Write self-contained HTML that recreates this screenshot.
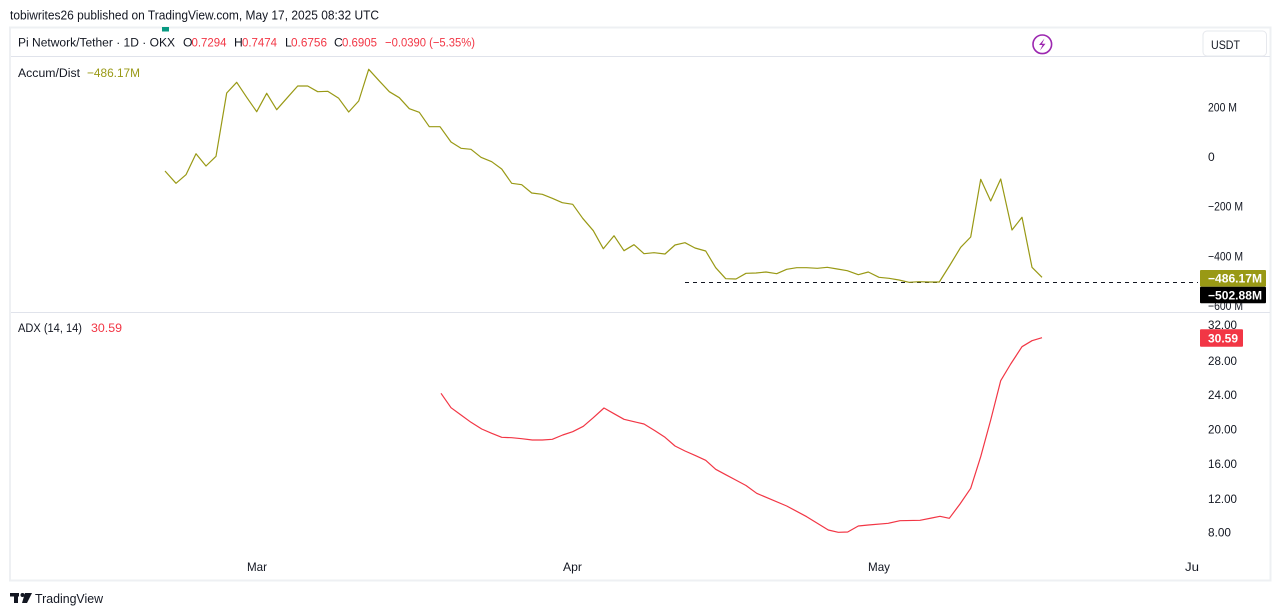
<!DOCTYPE html>
<html><head><meta charset="utf-8"><style>
html,body{margin:0;padding:0;background:#fff;}
svg{display:block;font-family:"Liberation Sans",Arial,sans-serif;}
</style></head><body>
<svg width="1281" height="616" viewBox="0 0 1281 616" xmlns="http://www.w3.org/2000/svg">
<rect width="1281" height="616" fill="#fff"/>
<!-- header -->
<text x="10" y="19.5" font-size="12.5" fill="#131722" textLength="369" lengthAdjust="spacingAndGlyphs">tobiwrites26 published on TradingView.com, May 17, 2025 08:32 UTC</text>
<!-- frame -->
<rect x="10" y="27.5" width="1260.5" height="553" fill="#fff" stroke="#eef0f3" stroke-width="2"/>
<rect x="162" y="27" width="7" height="4.5" fill="#089981"/>
<line x1="11" y1="56.5" x2="1270" y2="56.5" stroke="#e0e3eb" stroke-width="1"/>
<line x1="11" y1="312.5" x2="1270" y2="312.5" stroke="#e0e3eb" stroke-width="1"/>
<!-- legend row -->
<text y="46.5" font-size="12.2" fill="#131722">
<tspan x="18" textLength="157" lengthAdjust="spacingAndGlyphs">Pi Network/Tether · 1D · OKX</tspan>
</text>
<text y="46.5" font-size="12.2">
<tspan x="183" fill="#131722">O</tspan><tspan x="191.5" fill="#f23645" textLength="35" lengthAdjust="spacingAndGlyphs">0.7294</tspan>
<tspan x="234" fill="#131722">H</tspan><tspan x="242" fill="#f23645" textLength="35" lengthAdjust="spacingAndGlyphs">0.7474</tspan>
<tspan x="285" fill="#131722">L</tspan><tspan x="291" fill="#f23645" textLength="36" lengthAdjust="spacingAndGlyphs">0.6756</tspan>
<tspan x="334" fill="#131722">C</tspan><tspan x="342" fill="#f23645" textLength="35" lengthAdjust="spacingAndGlyphs">0.6905</tspan>
<tspan x="385" fill="#f23645" textLength="90" lengthAdjust="spacingAndGlyphs">−0.0390 (−5.35%)</tspan>
</text>
<!-- lightning icon -->
<circle cx="1042.3" cy="44.3" r="9.3" fill="none" stroke="#9c27b0" stroke-width="1.6"/>
<path d="M1044.5 38.5 L1039 45 L1042.5 45 L1040 50.5 L1045.5 43.8 L1042 43.8 Z" fill="#9c27b0"/>
<!-- USDT box -->
<rect x="1203" y="31" width="63.5" height="25" rx="4" fill="#fff" stroke="#e6e8ed" stroke-width="1"/>
<text x="1211" y="49" font-size="12" fill="#131722" textLength="29" lengthAdjust="spacingAndGlyphs">USDT</text>

<!-- Accum/Dist pane -->
<text y="77" font-size="12.2">
<tspan x="18" fill="#131722" textLength="62" lengthAdjust="spacingAndGlyphs">Accum/Dist</tspan>
<tspan x="87" fill="#999915" textLength="53" lengthAdjust="spacingAndGlyphs">−486.17M</tspan>
</text>
<g font-size="12" fill="#131722">
<text x="1208" y="111.5" textLength="29" lengthAdjust="spacingAndGlyphs">200 M</text>
<text x="1208" y="161">0</text>
<text x="1208" y="210.5" textLength="35" lengthAdjust="spacingAndGlyphs">−200 M</text>
<text x="1208" y="260.5" textLength="35" lengthAdjust="spacingAndGlyphs">−400 M</text>
</g>
<clipPath id="cp1"><rect x="1190" y="290" width="80" height="22"/></clipPath>
<text x="1208" y="310" font-size="12" fill="#131722" clip-path="url(#cp1)" textLength="35" lengthAdjust="spacingAndGlyphs">−600 M</text>

<line x1="685" y1="282.5" x2="1198" y2="282.5" stroke="#131722" stroke-width="1" stroke-dasharray="4,4"/>

<polyline fill="none" stroke="#999915" stroke-width="1.2" stroke-linejoin="round" points="165,171 176,183.3 186,174.7 196,153.7 206,166 216,156.3 226.7,93 236.7,82.3 246.7,97.3 256.7,111.7 266.7,93.3 276.7,109.7 287.3,97.7 297.7,86 307.7,86 317.7,91.7 327.7,91.3 338.7,98.3 348.7,112 358.7,101 368.7,69.3 378.7,80.3 389.3,91.7 399.3,97.7 409.3,108.7 419.3,112.3 429.3,126.7 440,126.7 451,142 461,148.3 471,149.3 481,157.3 491.7,161.7 501.7,169 511.7,183.3 521.7,184.7 531.7,193 542.3,194.3 552.3,198.3 562.3,202.7 572.7,204.3 582.7,218.3 593.3,230.7 603.3,248.7 614,235.7 624,250.7 634,244.7 644,253.7 654,252.7 665,254 675,245 685,242.7 695,248 705.7,251 715.7,267.7 725.7,278.7 736,279 746,273.3 756,273 766,272 776.7,273.7 786.7,269.3 796.7,267.7 806.7,267.7 817.3,268.3 827.3,267.3 837.3,269 847.3,270.7 858.3,274.7 868.3,272 879,277.3 889,278.3 899,280 909,282.3 919,281.7 929,282 939.3,282 950,265 960.7,247.3 970.7,237 980.7,179.3 990.7,201 1000.7,179 1012,230 1022,217.3 1032,267.3 1042,277.3"/>

<rect x="1200" y="270" width="66" height="16.7" rx="1" fill="#999915"/>
<text x="1208" y="282.5" font-size="12" font-weight="bold" fill="#fff" textLength="54" lengthAdjust="spacingAndGlyphs">−486.17M</text>
<rect x="1200" y="286.7" width="66" height="16.6" rx="1" fill="#000"/>
<text x="1208" y="299.3" font-size="12" font-weight="bold" fill="#fff" textLength="54" lengthAdjust="spacingAndGlyphs">−502.88M</text>

<!-- ADX pane -->
<text y="332" font-size="12.2">
<tspan x="18" fill="#131722" textLength="64" lengthAdjust="spacingAndGlyphs">ADX (14, 14)</tspan>
<tspan x="91" fill="#f23645" textLength="31" lengthAdjust="spacingAndGlyphs">30.59</tspan>
</text>
<g font-size="12" fill="#131722">
<text x="1208" y="329" textLength="29" lengthAdjust="spacingAndGlyphs">32.00</text>
<text x="1208" y="365" textLength="29" lengthAdjust="spacingAndGlyphs">28.00</text>
<text x="1208" y="399" textLength="29" lengthAdjust="spacingAndGlyphs">24.00</text>
<text x="1208" y="433.5" textLength="29" lengthAdjust="spacingAndGlyphs">20.00</text>
<text x="1208" y="468" textLength="29" lengthAdjust="spacingAndGlyphs">16.00</text>
<text x="1208" y="503" textLength="29" lengthAdjust="spacingAndGlyphs">12.00</text>
<text x="1208" y="536.7" textLength="23" lengthAdjust="spacingAndGlyphs">8.00</text>
</g>

<polyline fill="none" stroke="#f23645" stroke-width="1.2" stroke-linejoin="round" points="441,393.3 451,407.7 461,415 471,422.3 481.7,429 491.7,433.3 501.7,437.3 511.7,437.7 521.7,438.7 532.3,440 542.3,440 552.3,439.3 562.7,435 572.7,431.7 583.3,426.3 593.3,417.7 604,408 614,413.7 624,419.3 634,421.7 644,424 655,430.7 665,437.3 675,446 685,451 695.7,455.7 705.7,460.3 715.7,469.3 725.7,474.7 735.7,480 746,485.5 756.7,493.3 786.7,506 806.7,516.7 828.3,530 838.3,532.3 847.7,532 858.3,526 868.3,525 888.3,523.3 900,520.7 920,520.3 931.7,518 940,516.3 949.3,518.3 960,504 970.7,488.3 980.7,456.7 990.7,420 1000.7,380.7 1010.7,364 1022,346.7 1032,340.7 1042,337.7"/>

<rect x="1200" y="329.3" width="43" height="17.4" rx="1" fill="#f23645"/>
<text x="1208" y="342.5" font-size="12" font-weight="bold" fill="#fff" textLength="30" lengthAdjust="spacingAndGlyphs">30.59</text>

<!-- time axis -->
<g font-size="12" fill="#131722">
<text x="247" y="571" textLength="20" lengthAdjust="spacingAndGlyphs">Mar</text>
<text x="563" y="571" textLength="19" lengthAdjust="spacingAndGlyphs">Apr</text>
<text x="868" y="571" textLength="22" lengthAdjust="spacingAndGlyphs">May</text>
<text x="1185" y="571" textLength="14" lengthAdjust="spacingAndGlyphs">Ju</text>
</g>

<!-- TradingView logo -->
<g fill="#131722">
<rect x="10" y="593" width="9" height="3.5"/>
<rect x="14" y="593" width="4" height="10"/>
<circle cx="22.5" cy="595" r="2"/>
<polygon points="25,593 32,593 27,603 22,603"/>
</g>
<text x="35" y="603" font-size="13" fill="#131722" textLength="68" lengthAdjust="spacingAndGlyphs">TradingView</text>
</svg>
</body></html>
